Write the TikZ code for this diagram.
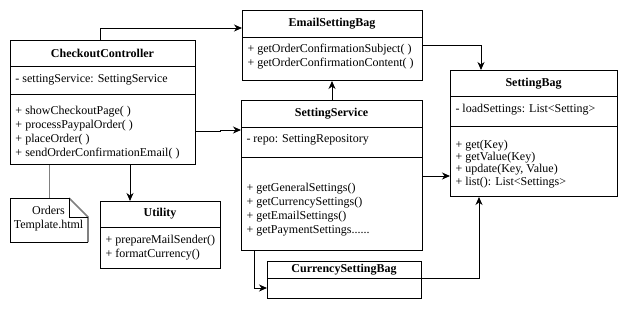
\documentclass[tikz,border=0pt]{standalone}
\usepackage{fontspec}
\setmainfont{Liberation Serif}
\usetikzlibrary{arrows.meta,calc}
\definecolor{notegray}{RGB}{128,128,128}

\begin{document}
\begin{tikzpicture}[x=1pt,y=-1pt,
  line width=1pt,
  classbox/.style={draw=black, fill=white, rectangle, inner sep=0pt, anchor=north west},
  classname/.style={font=\fontsize{12}{14}\selectfont\bfseries, inner sep=0pt},
  member/.style={font=\fontsize{12}{14}\selectfont, inner sep=0pt, anchor=west, align=left},
  tightmember/.style={font=\fontsize{12}{12.2}\selectfont, inner sep=0pt, anchor=west, align=left},
  link/.style={draw=black, line width=1pt, -{Stealth[length=8pt,width=7pt,inset=2.5pt]}},
  notelink/.style={draw=notegray, line width=1pt}
]
\useasboundingbox (0,0) rectangle (641,309);
\fill[white] (0,0) rectangle (641,309);

% ---- class boxes ----
\node[classbox, minimum width=185pt, minimum height=124pt] (cc) at (10,40) {};
\node[classbox, minimum width=180pt, minimum height=70pt]  (esb) at (242,10) {};
\node[classbox, minimum width=167pt, minimum height=126pt] (sb) at (450,70) {};
\node[classbox, minimum width=181pt, minimum height=150pt] (ss) at (241,100) {};
\node[classbox, minimum width=154pt, minimum height=37pt]  (csb) at (267,261) {};
\node[classbox, minimum width=120pt, minimum height=67pt]  (ut) at (100,201) {};

% ---- compartment separators ----
\draw (cc.west |- 0,66) -- (cc.east |- 0,66);
\draw (cc.west |- 0,94) -- (cc.east |- 0,94);
\draw (esb.west |- 0,37) -- (esb.east |- 0,37);
\draw (sb.west |- 0,96) -- (sb.east |- 0,96);
\draw (sb.west |- 0,126) -- (sb.east |- 0,126);
\draw (ss.west |- 0,127) -- (ss.east |- 0,127);
\draw (ss.west |- 0,157) -- (ss.east |- 0,157);
\draw (csb.west |- 0,278) -- (csb.east |- 0,278);
\draw (ut.west |- 0,227) -- (ut.east |- 0,227);

% ---- CheckoutController ----
\node[classname] (ccname) at (102.5,53) {CheckoutController};
\node[member] (ccattr) at (15,80) {- settingService: SettingService};
\node[member] (ccops) at (15,132.5) {+ showCheckoutPage( )\\+ processPaypalOrder( )\\+ placeOrder( )\\+ sendOrderConfirmationEmail( )};

% ---- EmailSettingBag ----
\node[classname] (esbname) at (332,24) {EmailSettingBag};
\node[member] (esbops) at (247,57) {+ getOrderConfirmationSubject( )\\+ getOrderConfirmationContent( )};

% ---- SettingBag ----
\node[classname] (sbname) at (533.5,84) {SettingBag};
\node[member] (sbattr) at (455,110) {- loadSettings: List<Setting>};
\node[tightmember] (sbops) at (455,164) {+ get(Key)\\+ getValue(Key)\\+ update(Key, Value)\\+ list(): List<Settings>};

% ---- SettingService ----
\node[classname] (ssname) at (331.5,114) {SettingService};
\node[member] (ssattr) at (246,140) {- repo: SettingRepository};
\node[member] (ssops) at (246,209.5) {+ getGeneralSettings()\\+ getCurrencySettings()\\+ getEmailSettings()\\+ getPaymentSettings......};

% ---- CurrencySettingBag ----
\node[classname] (csbname) at (344,270) {CurrencySettingBag};

% ---- Utility ----
\node[classname] (utname) at (160,214) {Utility};
\node[member] (utops) at (105,248) {+ prepareMailSender()\\+ formatCurrency()};

% ---- template note (folded corner, grey shaded right side) ----
\node[inner sep=0pt, minimum width=77pt, minimum height=43pt, anchor=north west] (note) at (10,198) {};
\fill[white] (note.north west) -- ($(note.north east)+(-19,0)$) -- ($(note.north east)+(0,19)$)
  -- (note.south east) -- (note.south west) -- cycle;
\draw[notegray, line width=1.6pt] ($(note.north east)+(-19,0)$) -- ($(note.north east)+(0,19)$) -- (note.south east);
\draw (note.south east) -- (note.south west) -- (note.north west) -- ($(note.north east)+(-19,0)$);
\draw ($(note.north east)+(-19,0)$) -- ($(note.north east)+(-19,19)$) -- ($(note.north east)+(0,19)$);
\node[member, anchor=center, align=center] (notetext) at (48.5,219) {Orders\\Template.html};

% ---- connectors ----
\draw[link] (cc.north west -| 100,0) |- (esb.west |- 0,28);
\draw[link] (esb.east |- 0,45) -| (sb.north west -| 481,0);
\draw[link] (ss.north west -| 332,0) -- (esb.south west -| 332,0);
\draw[link] (cc.east |- 0,131) -- (220,131) -- (220,130) -- (ss.west |- 0,130);
\draw[link] (ss.east |- 0,176) -- (sb.west |- 0,176);
\draw[link] (ss.south west -| 254,0) |- (csb.west |- 0,288);
\draw[link] (csb.east |- 0,278) -| (sb.south west -| 479,0);
\draw[link] (cc.south west -| 130,0) -- (ut.north west -| 130,0);
\draw[notelink] (cc.south west -| 49,0) -- (note.north west -| 49,0);
\end{tikzpicture}
\end{document}
